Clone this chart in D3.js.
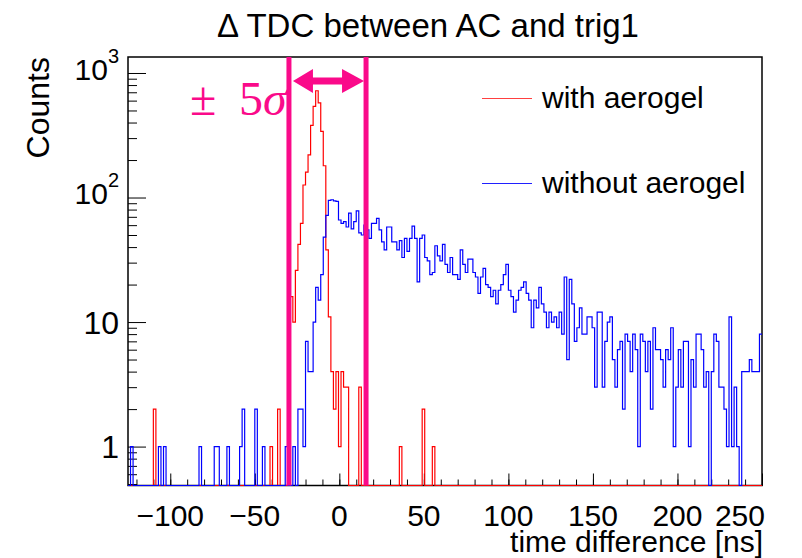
<!DOCTYPE html>
<html>
<head>
<meta charset="utf-8">
<script src="https://cdn.jsdelivr.net/npm/d3@7"></script>
<style>
  body { margin: 0; background: #fff; }
  text { font-family: "Liberation Sans", Arial, Helvetica, sans-serif; fill: #000; }
</style>
</head>
<body>
<script>
// Define SVG area and the frame of the histogram pad
var svgWidth = 802;
var svgHeight = 558;
var frame = { left: 128, right: 762, top: 57, bottom: 485.5 };

// Binning of both histograms: 250 bins of 1.5 ns starting at -125 ns
var binLow = -125;
var binWidth = 1.5;

// Counts per bin, without aerogel (blue)
var withoutAerogel = [
  0, 1, 0, 0, 0, 0, 0, 0, 0, 0,
  0, 0, 1, 0, 1, 0, 0, 0, 0, 0,
  0, 0, 0, 0, 0, 0, 0, 0, 1, 0,
  0, 0, 0, 0, 1, 1, 0, 0, 0, 1,
  0, 0, 0, 0, 1, 2, 0, 0, 0, 0,
  2, 0, 0, 1, 0, 0, 0, 0, 0, 0,
  0, 0, 1, 0, 0, 1, 0, 2, 2, 1,
  7, 4, 4, 10, 19, 15, 24, 48, 72, 95,
  96, 94, 93, 66, 62, 64, 58, 75, 56, 64,
  78, 52, 50, 60, 55, 47, 62, 62, 68, 55,
  44, 38, 58, 58, 44, 44, 38, 45, 33, 47,
  37, 47, 59, 47, 21, 47, 50, 33, 31, 24,
  25, 41, 34, 31, 42, 29, 25, 33, 24, 24,
  22, 38, 29, 25, 32, 32, 25, 23, 17, 23,
  27, 20, 19, 16, 18, 14, 18, 20, 24, 29,
  18, 16, 12, 15, 18, 19, 21, 17, 15, 9,
  15, 13, 19, 14, 12, 9, 12, 10, 11, 9,
  12, 8, 23, 5, 22, 14, 7, 9, 13, 8,
  8, 11, 11, 9, 3, 12, 12, 3, 7, 10,
  11, 5, 3, 6, 7, 2, 8, 7, 4, 8,
  6, 1, 8, 7, 4, 7, 2, 9, 6, 6,
  5, 3, 6, 5, 9, 1, 3, 6, 3, 7,
  7, 1, 5, 3, 8, 8, 6, 3, 4, 0,
  4, 8, 7, 3, 3, 2, 1, 11, 1, 3,
  1, 0, 4, 4, 4, 5, 4, 4, 4, 8
];

// Counts with aerogel (red): [bin low edge in ns, count]; every other bin is empty
var withAerogel = [
  [-110, 2], [-41, 1], [-36.5, 2],
  [-29, 16], [-27.5, 10], [-26, 26], [-24.5, 42], [-23, 62], [-21.5, 126],
  [-20, 160], [-18.5, 220], [-17, 380], [-15.5, 540], [-14, 720], [-12.5, 575],
  [-11, 340], [-9.5, 180], [-8, 38], [-6.5, 11], [-5, 4], [-3.5, 2], [-2, 4],
  [-0.5, 1], [1, 4], [2.5, 3], [4, 3], [11.5, 3], [35.5, 1], [49, 2], [55, 1]
];

// Axis ticks and labels
var xMajorTicks = [-100, -50, 0, 50, 100, 150, 200, 250];
var yMajorTicks = [1, 10, 100, 1000];
var yTickLabels = [["1", ""], ["10", ""], ["10", "2"], ["10", "3"]];

// the +-5 sigma window drawn on top (ns)
var cutWindow = [-29.8, 15.8];
var legendLabels = ["with aerogel", "without aerogel"];
var pink = "#fa0a8a";

var nBins = withoutAerogel.length;
var redCounts = new Array(nBins).fill(0);
withAerogel.forEach(function(d) {
  redCounts[Math.round((d[0] - binLow) / binWidth)] = d[1];
});

var svg = d3.select("body")
  .append("svg")
  .attr("width", svgWidth)
  .attr("height", svgHeight);

// scales
var x = d3.scaleLinear().domain([-125, 250]).range([frame.left, frame.right]);
var y = d3.scaleLog().domain([0.487, 1344]).range([frame.bottom, frame.top]);

// title
svg.append("text")
  .attr("x", 428)
  .attr("y", 37)
  .attr("text-anchor", "middle")
  .style("font-size", "33px")
  .text("\u0394 TDC between AC and trig1");

// frame
svg.append("rect")
  .attr("x", frame.left)
  .attr("y", frame.top)
  .attr("width", frame.right - frame.left)
  .attr("height", frame.bottom - frame.top)
  .attr("fill", "none")
  .attr("stroke", "#000")
  .attr("stroke-width", 1.5);

// x axis: minor ticks every 10 ns, major every 50 ns, ticks point inwards
var xMinor = svg.append("g")
  .attr("transform", `translate(0, ${frame.bottom})`)
  .call(d3.axisBottom(x).tickValues(d3.range(-120, 251, 10)).tickSizeInner(-6).tickSizeOuter(0).tickFormat(""));
xMinor.select(".domain").remove();

var xAxis = svg.append("g")
  .attr("transform", `translate(0, ${frame.bottom})`)
  .call(d3.axisBottom(x).tickValues(xMajorTicks).tickSizeInner(-12).tickSizeOuter(0).tickFormat(""));
xAxis.select(".domain").remove();

// x tick labels, the last one kept inside the pad
var xLabels = svg.append("g");
xMajorTicks.forEach(function(v, i) {
  var last = i === xMajorTicks.length - 1;
  xLabels.append("text")
    .attr("x", last ? 765 : x(v))
    .attr("y", 526)
    .attr("text-anchor", last ? "end" : "middle")
    .style("font-size", "30px")
    .text(d3.format("")(v));
});

svg.append("text")
  .attr("x", 763)
  .attr("y", 552)
  .attr("text-anchor", "end")
  .style("font-size", "30px")
  .text("time difference [ns]");

// y axis: log scale, minor ticks at 2..9 of every decade
var yMinorValues = [];
[0.1, 1, 10, 100, 1000].forEach(function(dec) {
  for (var k = 2; k <= 9; k++) {
    var v = dec * k;
    if (v >= 0.487 && v <= 1344) yMinorValues.push(v);
  }
});
var yMinor = svg.append("g")
  .attr("transform", `translate(${frame.left}, 0)`)
  .call(d3.axisLeft(y).tickValues(yMinorValues).tickSizeInner(-9).tickSizeOuter(0).tickFormat(""));
yMinor.select(".domain").remove();

var yAxis = svg.append("g")
  .attr("transform", `translate(${frame.left}, 0)`)
  .call(d3.axisLeft(y).tickValues(yMajorTicks).tickSizeInner(-18).tickSizeOuter(0).tickFormat(""));
yAxis.select(".domain").remove();

// y tick labels with superscript exponents
var yLabels = svg.append("g");
yMajorTicks.forEach(function(v, i) {
  var lab = yTickLabels[i];
  var t = yLabels.append("text")
    .attr("x", 119)
    .attr("y", y(v))
    .attr("dy", lab[1] ? "0.42em" : "0.36em")
    .attr("text-anchor", "end");
  if (lab[1]) {
    t.append("tspan").style("font-size", "30px").text(lab[0]);
    t.append("tspan").style("font-size", "20px").attr("dy", "-0.85em").text(lab[1]);
  } else {
    t.style("font-size", "32px").text(lab[0]);
  }
});

svg.append("text")
  .attr("transform", "translate(49, 57) rotate(-90)")
  .attr("text-anchor", "end")
  .style("font-size", "32px")
  .text("Counts");

// histograms, clipped to the frame
svg.append("clipPath")
  .attr("id", "plotClip")
  .append("rect")
  .attr("x", frame.left)
  .attr("y", frame.top)
  .attr("width", frame.right - frame.left)
  .attr("height", frame.bottom - frame.top + 1);

function histPath(counts) {
  var pts = [];
  counts.forEach(function(c, i) {
    var x0 = x(binLow + i * binWidth);
    var x1 = x(binLow + (i + 1) * binWidth);
    var yy = c > 0 ? y(c) : frame.bottom;
    pts.push([x0, yy], [x1, yy]);
  });
  return d3.line()(pts);
}

var histGroup = svg.append("g").attr("clip-path", "url(#plotClip)");

histGroup.append("path")
  .attr("d", histPath(redCounts))
  .attr("fill", "none")
  .attr("stroke", "#ff0000")
  .attr("stroke-width", 1.2);

histGroup.append("path")
  .attr("d", histPath(withoutAerogel))
  .attr("fill", "none")
  .attr("stroke", "#0000ff")
  .attr("stroke-width", 1.2);

// legend
var legend = svg.append("g");
var legendColors = ["#ff4040", "#2020ff"];
var legendY = [98.5, 183.5];
legendLabels.forEach(function(lab, i) {
  legend.append("line")
    .attr("x1", 482).attr("x2", 532)
    .attr("y1", legendY[i]).attr("y2", legendY[i])
    .attr("stroke", legendColors[i])
    .attr("stroke-width", 1.2);
  legend.append("text")
    .attr("x", 542)
    .attr("y", legendY[i])
    .attr("dy", "0.33em")
    .style("font-size", "30px")
    .text(lab);
});

// +-5 sigma window annotation
var cuts = svg.append("g");
cutWindow.forEach(function(c) {
  cuts.append("rect")
    .attr("x", x(c) - 2.5)
    .attr("y", frame.top)
    .attr("width", 5)
    .attr("height", frame.bottom - frame.top)
    .attr("fill", pink);
});

var xa = x(cutWindow[0]) + 4;
var xb = x(cutWindow[1]) - 2;
var ay = 81;
cuts.append("path")
  .attr("d", `M${xa},${ay} L${xa + 20},${ay - 12} L${xa + 20},${ay - 3.5} L${xb - 22},${ay - 3.5} L${xb - 22},${ay - 12} L${xb},${ay} L${xb - 22},${ay + 12} L${xb - 22},${ay + 3.5} L${xa + 20},${ay + 3.5} L${xa + 20},${ay + 12} Z`)
  .attr("fill", pink);

var sigmaText = cuts.append("text")
  .attr("y", 115)
  .style("font-family", "'Liberation Serif', 'DejaVu Serif', serif")
  .style("font-size", "48px")
  .style("fill", pink);
sigmaText.append("tspan").attr("x", 190).text("\u00b1");
sigmaText.append("tspan").attr("x", 239).text("5");
sigmaText.append("tspan").style("font-style", "italic").text("\u03c3");
</script>
</body>
</html>
